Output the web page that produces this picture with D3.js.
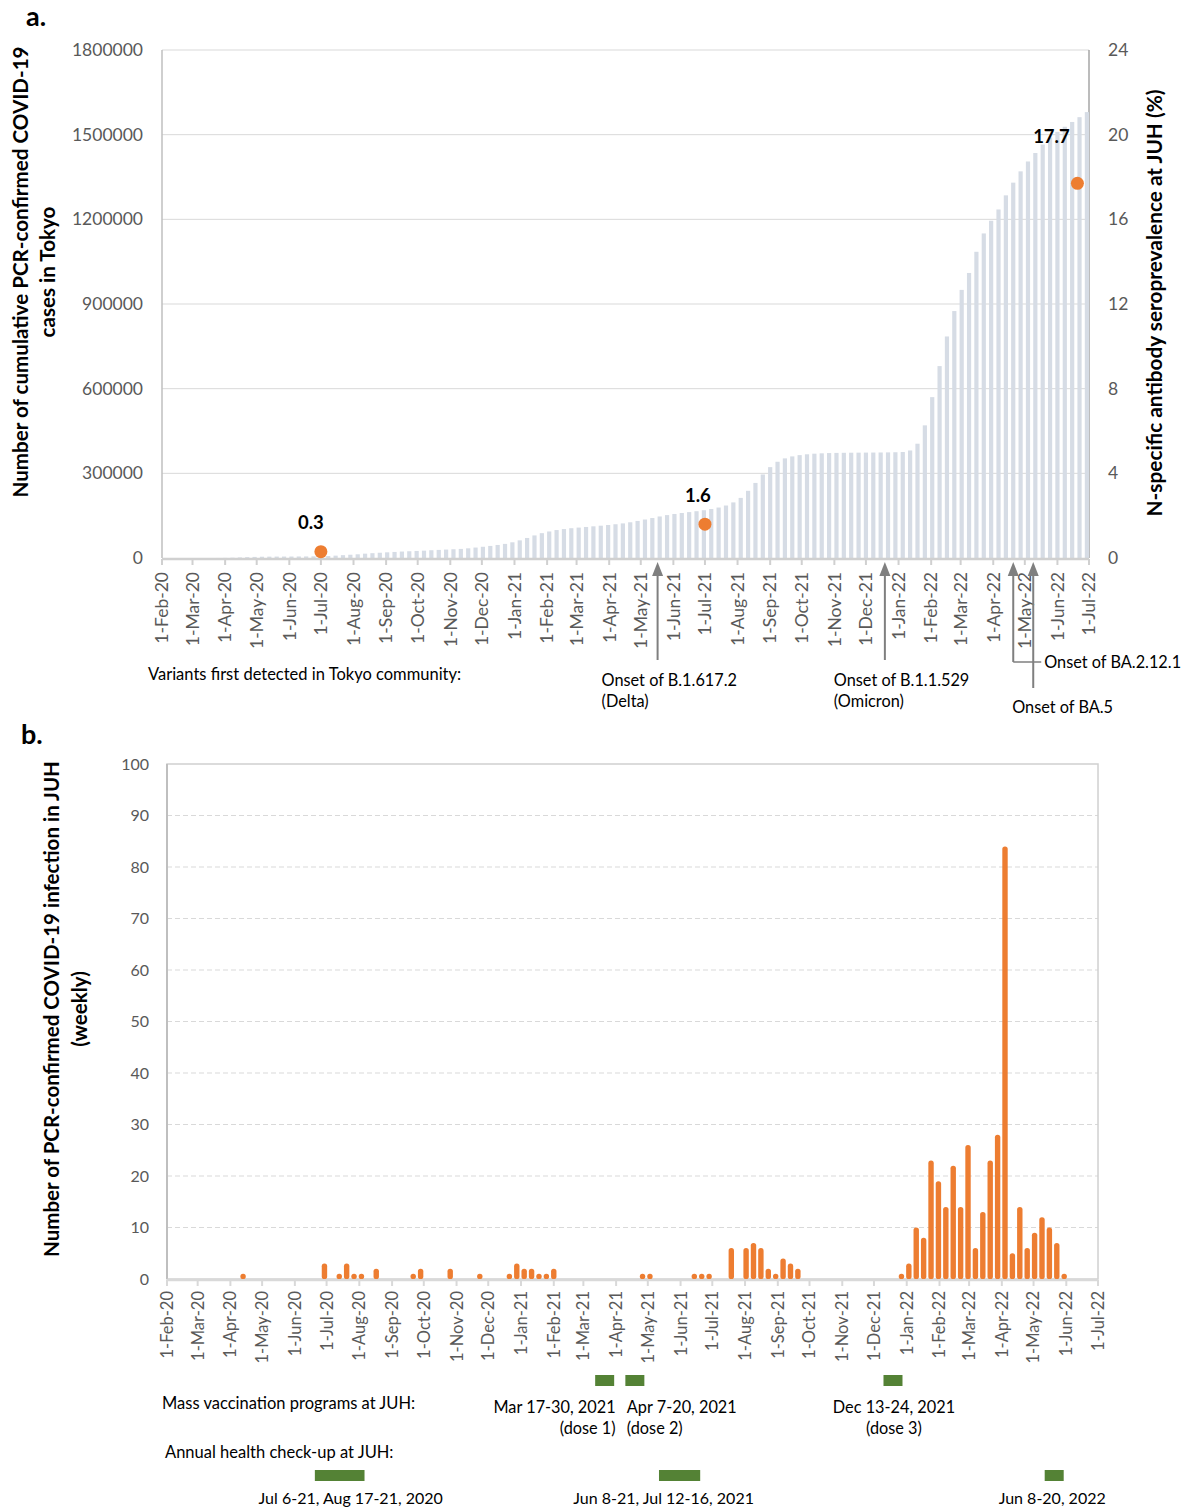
<!DOCTYPE html>
<html>
<head>
<meta charset="utf-8">
<script src="https://cdn.jsdelivr.net/npm/d3@7"></script>
<style>
  body { margin: 0; background: #fff; }
  svg text { font-family: Lato, "Open Sans", "Liberation Sans", sans-serif; }
</style>
</head>
<body>
<svg id="chart" width="1195" height="1509"></svg>
<script>
// ---------- Data ----------
// Panel a: cumulative PCR-confirmed cases in Tokyo, one value per week
const tokyoFirstWeek = "2020-02-05";
const tokyoCumulative2020 = [
  3, 5, 20, 30,
  40, 60, 85, 140, 430,
  1030, 2100, 3080, 3900,
  4570, 4850, 5070, 5180, 5280,
  5450, 5590, 5890, 6230,
  6880, 8360, 10050, 11610,
  13160, 15420, 17060, 18680, 20080,
  21480, 22850, 23920, 24980,
  26000, 27500, 28700, 29900,
  31000, 32200, 34300, 37000, 39800,
  42800, 46200, 50000, 55600
];
const tokyoCumulative2021 = [
  62500, 71000, 80000, 88000, 94000,
  99000, 102500, 105600, 107800,
  110000, 112200, 114500, 116900,
  119600, 122600, 126600, 131300,
  136400, 141600, 147200, 152000, 156000,
  159500, 162600, 165800, 169300,
  173600, 178800, 186000, 197000,
  213000, 238000, 266000, 296000, 322000,
  341000, 353000, 360000, 364500,
  367500, 369600, 370900, 371800, 372400,
  372800, 373100, 373300, 373500,
  373700, 373900, 374200, 374700
];
const tokyoCumulative2022 = [
  375500, 381000, 405000, 470000, 570000,
  680000, 785000, 875000, 950000,
  1010000, 1085000, 1150000, 1195000,
  1235000, 1285000, 1330000, 1370000,
  1405000, 1435000, 1465000, 1490000, 1510000,
  1528000, 1545000, 1562000, 1580000
];

// Panel a: N-specific antibody seroprevalence at JUH (%)
const seroDates = ["2020-07-01", "2021-07-01", "2022-06-20"];
const seroValues = [0.3, 1.6, 17.7];

// Variant onsets in the Tokyo community
const variantOnsets = ["2021-05-17", "2021-12-19", "2022-04-20", "2022-05-09"];
const variantLabels = [
  ["Onset of B.1.617.2", "(Delta)"],
  ["Onset of B.1.1.529", "(Omicron)"],
  ["Onset of BA.2.12.1"],
  ["Onset of BA.5"]
];

// Panel b: weekly PCR-confirmed infections at JUH
const juhFirstWeek = "2020-02-03";
const juhWeekly2020 = [
  0, 0, 0, 0, 0, 0, 0, 0, 0, 0,
  1, 0, 0, 0, 0, 0, 0, 0, 0, 0,
  0, 3, 0, 1, 3, 1, 1, 0, 2, 0,
  0, 0, 0, 1, 2, 0, 0, 0, 2, 0,
  0, 0, 1, 0, 0, 0, 1, 3
];
const juhWeekly2021 = [
  2, 2, 1, 1, 2,
  0, 0, 0, 0, 0, 0, 0, 0, 0, 0, 0,
  1, 1,
  0, 0, 0, 0, 0,
  1, 1, 1,
  0, 0,
  6, 0, 6, 7, 6, 2, 1, 4, 3, 2,
  0, 0, 0, 0, 0, 0, 0, 0, 0, 0, 0, 0, 0,
  1
];
const juhWeekly2022 = [
  3, 10, 8, 23, 19, 14, 22, 14, 26, 6, 13,
  23, 28, 84, 5, 14, 6, 9, 12, 10, 7, 1
];

// Mass vaccination programmes and annual check-ups at JUH
const vaccinationStarts = ["2021-03-17", "2021-04-07", "2021-12-13"];
const vaccinationEnds   = ["2021-03-30", "2021-04-20", "2021-12-24"];
const vaccinationLabels = [
  ["Mar 17-30, 2021", "(dose 1)"],
  ["Apr 7-20, 2021", "(dose 2)"],
  ["Dec 13-24, 2021", "(dose 3)"]
];
const checkupStarts = ["2020-07-06", "2021-06-08", "2022-06-08"];
const checkupEnds   = ["2020-08-21", "2021-07-16", "2022-06-20"];
const checkupLabels = ["Jul 6-21, Aug 17-21, 2020", "Jun 8-21, Jul 12-16, 2021", "Jun 8-20, 2022"];

// Axis ticks
const cumulativeTicks = [0, 300000, 600000, 900000, 1200000, 1500000, 1800000];
const seroTicks = [0, 4, 8, 12, 16, 20, 24];
const weeklyTicks = [0, 10, 20, 30, 40, 50, 60, 70, 80, 90, 100];
const axisStart = "2020-02-01";
const axisEnd = "2022-07-01";

// ---------- Helpers ----------
const parse = d3.utcParse("%Y-%m-%d");
const fmtMonth = d3.utcFormat("%-d-%b-%y");
const monthTicks = d3.utcMonth.range(parse(axisStart), d3.utcDay.offset(parse(axisEnd), 1));
const weekly = (first, values) => values.map((v, i) => ({ date: d3.utcDay.offset(parse(first), 7 * i), value: v }));

const tokyoSeries = weekly(tokyoFirstWeek, tokyoCumulative2020.concat(tokyoCumulative2021, tokyoCumulative2022));
const juhSeries = weekly(juhFirstWeek, juhWeekly2020.concat(juhWeekly2021, juhWeekly2022));

const svg = d3.select("#chart");
const GREY_TEXT = "#595959";
const ORANGE = "#ED7D31";
const GREEN = "#548235";

function rotatedTitle(g, x, y, text, size) {
  g.append("text")
    .attr("transform", `translate(${x},${y}) rotate(-90)`)
    .attr("text-anchor", "middle")
    .attr("font-size", size)
    .attr("font-weight", 700)
    .attr("fill", "#000")
    .text(text);
}

// ---------- Panel a ----------
const xA = d3.scaleUtc().domain([parse(axisStart), parse(axisEnd)]).range([162, 1089]);
const yA = d3.scaleLinear().domain([0, 1800000]).range([558, 50]);
const yA2 = d3.scaleLinear().domain([0, 24]).range([558, 50]);

const gA = svg.append("g");

gA.append("text").attr("x", 26).attr("y", 26).attr("font-size", 27).attr("font-weight", 700).text("a.");

// gridlines
gA.append("g").selectAll("line")
  .data(cumulativeTicks.filter(d => d > 0))
  .join("line")
  .attr("x1", xA.range()[0]).attr("x2", xA.range()[1])
  .attr("y1", d => yA(d)).attr("y2", d => yA(d))
  .attr("stroke", "#d9d9d9").attr("stroke-width", 1);

// frame
gA.append("line").attr("x1", xA.range()[0]).attr("x2", xA.range()[0]).attr("y1", yA(1800000)).attr("y2", yA(0))
  .attr("stroke", "#bfbfbf").attr("stroke-width", 1.5);
gA.append("line").attr("x1", xA.range()[1]).attr("x2", xA.range()[1]).attr("y1", yA(1800000)).attr("y2", yA(0))
  .attr("stroke", "#a6a6a6").attr("stroke-width", 1.5);

// cumulative bars
gA.append("g").selectAll("rect")
  .data(tokyoSeries)
  .join("rect")
  .attr("x", d => xA(d.date) - 2.1)
  .attr("width", 4.2)
  .attr("y", d => yA(d.value))
  .attr("height", d => yA(0) - yA(d.value))
  .attr("fill", "#D6DCE5");

// x axis line and month ticks
gA.append("line").attr("x1", xA.range()[0]).attr("x2", xA.range()[1]).attr("y1", 559).attr("y2", 559)
  .attr("stroke", "#d0d0d0").attr("stroke-width", 2.5);
gA.append("g").selectAll("line")
  .data(monthTicks)
  .join("line")
  .attr("x1", d => xA(d)).attr("x2", d => xA(d))
  .attr("y1", 559).attr("y2", 565)
  .attr("stroke", "#d0d0d0").attr("stroke-width", 2);
gA.append("g").selectAll("text")
  .data(monthTicks)
  .join("text")
  .attr("transform", d => `translate(${xA(d)},572) rotate(-90)`)
  .attr("text-anchor", "end")
  .attr("dy", "0.36em")
  .attr("font-size", 17.5)
  .attr("fill", GREY_TEXT)
  .text(fmtMonth);

// left axis
const axL = gA.append("g").attr("transform", `translate(${xA.range()[0]},0)`)
  .call(d3.axisLeft(yA).tickValues(cumulativeTicks).tickFormat(d3.format("d")).tickSize(0).tickPadding(19));
axL.select(".domain").remove();
axL.selectAll("text").attr("font-size", 17.5).attr("fill", GREY_TEXT).attr("font-family", null);

// right axis
const axR = gA.append("g").attr("transform", `translate(${xA.range()[1]},0)`)
  .call(d3.axisRight(yA2).tickValues(seroTicks).tickSize(0).tickPadding(19));
axR.select(".domain").remove();
axR.selectAll("text").attr("font-size", 17.5).attr("fill", GREY_TEXT).attr("font-family", null);

// seroprevalence points with value labels
const sero = seroDates.map((d, i) => ({ date: parse(d), value: seroValues[i] }));
const seroLabelShift = [[-10, -23], [-7, -22], [-26, -40]];
gA.append("g").selectAll("circle")
  .data(sero)
  .join("circle")
  .attr("cx", d => xA(d.date)).attr("cy", d => yA2(d.value))
  .attr("r", 6.5).attr("fill", ORANGE);
gA.append("g").selectAll("text")
  .data(sero)
  .join("text")
  .attr("x", (d, i) => xA(d.date) + seroLabelShift[i][0])
  .attr("y", (d, i) => yA2(d.value) + seroLabelShift[i][1])
  .attr("text-anchor", "middle")
  .attr("font-size", 18.5).attr("font-weight", 700)
  .text(d => d.value);

// axis titles
rotatedTitle(gA, 28, 272, "Number of cumulative PCR-confirmed COVID-19", 20.6);
rotatedTitle(gA, 55, 272, "cases in Tokyo", 20.6);
rotatedTitle(gA, 1162, 303, "N-specific antibody seroprevalence at JUH (%)", 20.8);

// variant onset arrows
gA.append("text").attr("x", 148).attr("y", 680).attr("font-size", 16.5).attr("fill", "#000")
  .text("Variants first detected in Tokyo community:");

const arrowTip = 562;
const arrowBottoms = [660, 660, 662, 688];
const gArr = gA.append("g");
variantOnsets.forEach((d, i) => {
  const x = xA(parse(d));
  gArr.append("line").attr("x1", x).attr("x2", x).attr("y1", arrowTip + 10).attr("y2", arrowBottoms[i])
    .attr("stroke", "#7f7f7f").attr("stroke-width", 2);
  gArr.append("path")
    .attr("d", `M${x},${arrowTip} L${x - 5.5},${arrowTip + 14} L${x + 5.5},${arrowTip + 14} Z`)
    .attr("fill", "#7f7f7f");
});
{
  const xD = xA(parse(variantOnsets[0]));
  const xO = xA(parse(variantOnsets[1]));
  const xB2 = xA(parse(variantOnsets[2]));
  const xB5 = xA(parse(variantOnsets[3]));
  [[xD - 56, variantLabels[0]], [xO - 51, variantLabels[1]]].forEach(([x, lines]) => {
    lines.forEach((t, j) => {
      gArr.append("text").attr("x", x).attr("y", 686 + j * 21).attr("font-size", 16.3).attr("fill", "#000").text(t);
    });
  });
  gArr.append("line").attr("x1", xB2).attr("x2", xB2 + 28).attr("y1", arrowBottoms[2]).attr("y2", arrowBottoms[2])
    .attr("stroke", "#7f7f7f").attr("stroke-width", 1.5);
  gArr.append("text").attr("x", xB2 + 31).attr("y", 668).attr("font-size", 16.3).attr("fill", "#000").text(variantLabels[2][0]);
  gArr.append("text").attr("x", xB5 - 21).attr("y", 713).attr("font-size", 16.3).attr("fill", "#000").text(variantLabels[3][0]);
}

// ---------- Panel b ----------
const xB = d3.scaleUtc().domain([parse(axisStart), parse(axisEnd)]).range([167, 1098]);
const yB = d3.scaleLinear().domain([0, 100]).range([1279, 764]);
const gB = svg.append("g");

gB.append("text").attr("x", 21).attr("y", 744).attr("font-size", 27).attr("font-weight", 700).text("b.");

// dashed gridlines
gB.append("g").selectAll("line")
  .data(weeklyTicks.filter(d => d > 0 && d < 100))
  .join("line")
  .attr("x1", xB.range()[0]).attr("x2", xB.range()[1])
  .attr("y1", d => yB(d)).attr("y2", d => yB(d))
  .attr("stroke", "#d9d9d9").attr("stroke-width", 1.2).attr("stroke-dasharray", "5,3");

// frame
gB.append("rect").attr("x", xB.range()[0]).attr("y", yB(100))
  .attr("width", xB.range()[1] - xB.range()[0]).attr("height", yB(0) - yB(100))
  .attr("fill", "none").attr("stroke", "#d0d0d0").attr("stroke-width", 1.5);
gB.append("line").attr("x1", xB.range()[0]).attr("x2", xB.range()[0]).attr("y1", yB(100)).attr("y2", yB(0))
  .attr("stroke", "#bfbfbf").attr("stroke-width", 2);

// x axis
gB.append("line").attr("x1", xB.range()[0]).attr("x2", xB.range()[1]).attr("y1", 1280).attr("y2", 1280)
  .attr("stroke", "#d9d9d9").attr("stroke-width", 2.5);
gB.append("g").selectAll("line")
  .data(monthTicks)
  .join("line")
  .attr("x1", d => xB(d)).attr("x2", d => xB(d))
  .attr("y1", 1280).attr("y2", 1286)
  .attr("stroke", "#d9d9d9").attr("stroke-width", 2);
gB.append("g").selectAll("text")
  .data(monthTicks)
  .join("text")
  .attr("transform", d => `translate(${xB(d)},1291) rotate(-90)`)
  .attr("text-anchor", "end")
  .attr("dy", "0.36em")
  .attr("font-size", 16.5)
  .attr("fill", GREY_TEXT)
  .text(fmtMonth);

// weekly bars
gB.append("g").selectAll("rect")
  .data(juhSeries.filter(d => d.value > 0))
  .join("rect")
  .attr("x", d => xB(d.date) - 2.7)
  .attr("width", 5.4)
  .attr("y", d => yB(d.value))
  .attr("height", d => yB(0) - yB(d.value))
  .attr("rx", 2.6)
  .attr("fill", ORANGE);

// left axis
const axB = gB.append("g").attr("transform", `translate(${xB.range()[0]},0)`)
  .call(d3.axisLeft(yB).tickValues(weeklyTicks).tickSize(0).tickPadding(18));
axB.select(".domain").remove();
axB.selectAll("text").attr("font-size", 16).attr("fill", GREY_TEXT).attr("font-family", null);

rotatedTitle(gB, 59, 1009, "Number of PCR-confirmed COVID-19 infection in JUH", 20.5);
rotatedTitle(gB, 87, 1009, "(weekly)", 20.5);

// vaccination programmes
gB.append("text").attr("x", 162).attr("y", 1409).attr("font-size", 16.5).attr("fill", "#000")
  .text("Mass vaccination programs at JUH:");
const vacc = vaccinationStarts.map((s, i) => {
  const x0 = xB(parse(s)), x1 = xB(d3.utcDay.offset(parse(vaccinationEnds[i]), 1));
  const mid = (x0 + x1) / 2 + [-3, 5, 0][i];
  return { mid, labels: vaccinationLabels[i] };
});
gB.append("g").selectAll("rect")
  .data(vacc)
  .join("rect")
  .attr("x", d => d.mid - 9.5).attr("width", 19)
  .attr("y", 1375).attr("height", 11)
  .attr("fill", GREEN);
vacc.forEach((d, i) => {
  const anchor = ["end", "start", "middle"][i];
  const x = [d.mid + 11, d.mid - 8, d.mid + 1][i];
  d.labels.forEach((t, j) => {
    gB.append("text").attr("x", x).attr("y", 1413 + j * 21).attr("text-anchor", anchor)
      .attr("font-size", 16.3).attr("fill", "#000").text(t);
  });
});

// annual health check-ups
gB.append("text").attr("x", 165).attr("y", 1458).attr("font-size", 16.5).attr("fill", "#000")
  .text("Annual health check-up at JUH:");
const checkShift = [-17, -29, -29];
const checks = checkupStarts.map((s, i) => {
  const x0 = xB(parse(s)) + checkShift[i];
  const x1 = Math.max(xB(d3.utcDay.offset(parse(checkupEnds[i]), 1)) + checkShift[i], x0 + 19);
  return { x0, x1, label: checkupLabels[i] };
});
gB.append("g").selectAll("rect")
  .data(checks)
  .join("rect")
  .attr("x", d => d.x0).attr("width", d => d.x1 - d.x0)
  .attr("y", 1470).attr("height", 11)
  .attr("fill", GREEN);
checks.forEach((d, i) => {
  gB.append("text").attr("x", (d.x0 + d.x1) / 2 + [11, -16, -2][i]).attr("y", 1504)
    .attr("text-anchor", "middle").attr("font-size", 16).attr("fill", "#000").text(d.label);
});
</script>
</body>
</html>
